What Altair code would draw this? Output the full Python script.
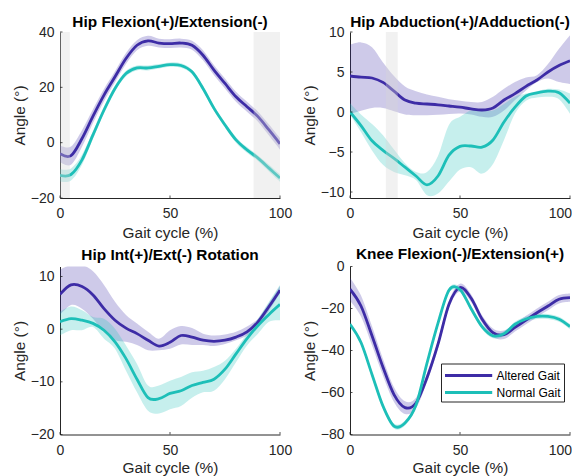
import altair as alt
import pandas as pd

# ---------------- data ----------------
gait = [0, 5, 10, 15, 20, 25, 30, 35, 40, 45, 50, 55, 60, 65, 70, 75, 80, 85, 90, 95, 100]
series_names = ["Altered Gait", "Normal Gait"]

# Panel 1: Hip Flexion(+)/Extension(-)
p1_alt = [-4.0, -4.7, 1.5, 9.6, 17.2, 23.8, 30.4, 35.2, 36.8, 36.0, 35.8, 36.0, 35.2, 31.6, 26.2, 21.4, 16.6, 13.0, 9.4, 4.6, -0.4]
p1_alt_sd = [3.0, 3.3, 3.0, 2.5, 2.2, 2.0, 2.0, 1.8, 1.8, 1.6, 1.6, 1.6, 1.6, 1.8, 1.8, 1.8, 1.8, 1.8, 1.8, 2.0, 2.1]
p1_nor = [-11.8, -11.5, -6.2, 2.8, 11.8, 19.6, 25.0, 27.0, 27.0, 27.6, 28.2, 27.9, 25.6, 19.6, 12.4, 6.4, 1.0, -2.6, -5.6, -9.2, -12.8]
p1_nor_sd = [2.2, 2.2, 1.8, 1.4, 1.2, 1.0, 1.0, 0.9, 0.9, 0.8, 0.8, 0.8, 0.8, 0.9, 0.9, 0.9, 1.0, 1.0, 1.0, 1.2, 1.3]

# Panel 2: Hip Abduction(+)/Adduction(-)
p2_alt = [4.5, 4.35, 4.25, 3.7, 2.6, 1.5, 1.1, 1.0, 0.9, 0.75, 0.6, 0.4, 0.25, 0.5, 1.5, 2.3, 3.2, 4.0, 5.0, 5.8, 6.4]
p2_alt_hi = [8.4, 8.7, 8.1, 6.2, 4.5, 3.2, 2.6, 2.2, 1.9, 1.6, 1.4, 1.25, 1.25, 1.9, 2.9, 3.75, 4.3, 4.6, 6.0, 7.9, 9.6]
p2_alt_lo = [-0.25, 0.15, 0.5, 0.5, 0.1, -0.3, -0.4, -0.4, -0.35, -0.25, -0.2, -0.3, -0.6, -0.6, 0.2, 1.5, 2.7, 3.75, 4.2, 3.75, 3.5]
p2_nor = [0.0, -1.7, -3.6, -4.8, -5.8, -6.9, -8.0, -9.1, -8.0, -5.4, -4.3, -4.25, -4.4, -3.5, -1.25, 0.6, 2.0, 2.4, 2.6, 2.4, 1.1]
p2_nor_hi = [1.1, -0.3, -1.5, -2.9, -4.7, -6.4, -7.5, -7.5, -5.5, -1.6, -0.6, 0.2, 0.2, 0.2, 1.0, 1.9, 2.3, 2.6, 2.9, 2.8, 2.3]
p2_nor_lo = [-0.3, -2.5, -4.8, -6.6, -7.5, -7.9, -8.5, -10.4, -10.2, -8.7, -7.2, -6.9, -7.7, -6.5, -3.5, -0.2, 1.4, 1.8, 1.9, 1.6, -0.2]

# Panel 3: Hip Int(+)/Ext(-) Rotation
p3_alt = [6.6, 8.4, 8.1, 6.5, 3.9, 1.7, 0.2, -0.85, -2.1, -3.2, -2.5, -1.2, -1.5, -2.1, -2.3, -2.1, -1.5, -0.5, 1.4, 4.3, 7.4]
p3_alt_hi = [11.3, 12.2, 12.2, 11.0, 8.4, 5.2, 2.7, 1.1, -0.5, -1.8, -0.2, 0.6, 0.2, -0.85, -1.2, -1.0, -0.5, 0.5, 2.0, 5.0, 8.2]
p3_alt_lo = [2.7, 4.6, 3.9, 2.0, -0.5, -2.1, -2.4, -3.0, -4.0, -4.0, -3.7, -2.9, -3.0, -3.0, -3.2, -2.8, -2.1, -1.2, 0.6, 3.5, 6.8]
p3_nor = [1.4, 2.0, 1.7, 1.1, -0.2, -2.4, -5.6, -9.5, -13.0, -13.2, -12.2, -11.7, -10.7, -10.1, -9.5, -7.6, -4.7, -1.8, 0.7, 2.8, 4.7]
p3_nor_hi = [3.3, 4.3, 3.6, 2.3, 2.0, 0.1, -3.1, -6.6, -10.7, -10.7, -9.8, -9.1, -8.2, -7.9, -7.2, -6.0, -3.7, -0.85, 2.0, 5.2, 8.4]
p3_nor_lo = [-1.2, -0.2, -0.2, 0.4, -1.8, -3.7, -7.9, -12.0, -15.5, -16.0, -15.2, -14.6, -13.0, -12.0, -11.7, -9.5, -6.3, -3.1, -0.85, 1.4, 1.7]

# Panel 4: Knee Flexion(-)/Extension(+)
p4_alt = [-10.8, -18.8, -33.0, -48.0, -61.0, -67.2, -65.0, -53.0, -37.0, -18.0, -10.0, -15.0, -25.0, -31.5, -32.5, -29.0, -25.5, -22.0, -18.8, -15.6, -14.8]
p4_alt_sd = [5.5, 5.0, 4.5, 4.0, 3.5, 3.0, 2.5, 2.0, 2.0, 1.8, 1.8, 1.8, 1.8, 2.0, 2.0, 2.0, 2.0, 2.0, 2.0, 2.0, 2.0]
p4_nor = [-27.5, -36.2, -51.4, -66.5, -76.0, -74.5, -66.0, -46.0, -27.0, -11.3, -11.0, -20.0, -28.6, -33.0, -32.0, -27.5, -25.0, -23.8, -23.8, -25.1, -28.6]
p4_nor_sd = [1.2, 1.2, 1.2, 1.2, 1.2, 1.2, 1.2, 1.2, 1.2, 1.2, 1.2, 1.2, 1.2, 1.2, 1.2, 1.2, 1.2, 1.2, 1.2, 1.2, 1.2]

titles = ["Hip Flexion(+)/Extension(-)", "Hip Abduction(+)/Adduction(-)",
          "Hip Int(+)/Ext(-) Rotation", "Knee Flexion(-)/Extension(+)"]
y_domains = [[-20, 40], [-10.75, 10], [-20, 11.9], [-80, 0]]
y_ticks = [[-20, 0, 20, 40], [-10, -5, 0, 5, 10], [-20, -10, 0, 10], [-80, -60, -40, -20, 0]]
x_ticks = [0, 50, 100]
shade_start = [[0, 88], [16.3], [], []]
shade_end = [[4.5, 100], [21.7], [], []]

# ---------------- style ----------------
FONT = "Liberation Sans"
AX = "#262626"
line_colors = ["#3d2ca6", "#1dbfb8"]
W = 220
heights = [166, 166, 168, 168]
title_offsets = [-5, -5, 3, -3]
x_title_pad = [4.5, 4.5, 3.0, 3.0]
right_column = [False, True, False, True]


def band_df(mean_a, lo_a, hi_a, mean_n, lo_n, hi_n):
    rows = []
    for s, m, lo, hi in [(series_names[0], mean_a, lo_a, hi_a), (series_names[1], mean_n, lo_n, hi_n)]:
        for i, g in enumerate(gait):
            rows.append({"x": g, "series": s, "mean": m[i], "lo": lo[i], "hi": hi[i]})
    return pd.DataFrame(rows)


def sd_df(mean_a, sd_a, mean_n, sd_n):
    return band_df(mean_a, [m - s for m, s in zip(mean_a, sd_a)], [m + s for m, s in zip(mean_a, sd_a)],
                   mean_n, [m - s for m, s in zip(mean_n, sd_n)], [m + s for m, s in zip(mean_n, sd_n)])


frames = [
    sd_df(p1_alt, p1_alt_sd, p1_nor, p1_nor_sd),
    band_df(p2_alt, p2_alt_lo, p2_alt_hi, p2_nor, p2_nor_lo, p2_nor_hi),
    band_df(p3_alt, p3_alt_lo, p3_alt_hi, p3_nor, p3_nor_lo, p3_nor_hi),
    sd_df(p4_alt, p4_alt_sd, p4_nor, p4_nor_sd),
]


def panel(k, show_legend=False):
    df = frames[k]
    H = heights[k]
    xscale = alt.Scale(domain=[0, 100], nice=False, zero=False)
    yscale = alt.Scale(domain=y_domains[k], nice=False, zero=False)
    xargs = dict(values=x_ticks, title="Gait cycle (%)", labelPadding=8.5, titlePadding=x_title_pad[k],
                 labelFlush=False)
    if right_column[k]:
        # keep the last label inside the page width
        xargs["labelAlign"] = {"condition": {"test": "datum.value == 100", "value": "right"}, "value": "center"}
        xargs["labelOffset"] = {"condition": {"test": "datum.value == 100", "value": 1.5}, "value": 0}
    xaxis = alt.Axis(**xargs)
    yaxis = alt.Axis(values=y_ticks[k], title="Angle (°)", labelPadding=6, titlePadding=3, labelFlush=False)

    def X(f):
        return alt.X(f, type="quantitative", scale=xscale, axis=xaxis)

    def Y(f):
        return alt.Y(f, type="quantitative", scale=yscale, axis=yaxis)

    layers = []
    for s, c in zip(series_names, line_colors):
        layers.append(
            alt.Chart(df[df["series"] == s]).mark_area(
                interpolate="cardinal", color=c, fillOpacity=0.25, strokeWidth=0, clip=True
            ).encode(x=X("x"), y=Y("lo"), y2="hi")
        )
    if show_legend:
        leg = alt.Legend(title=None, orient="none", legendX=91, legendY=97, direction="vertical",
                         symbolType="M-1,0H4.9", symbolSize=256, symbolStrokeWidth=3,
                         labelFont=FONT, labelFontSize=12, labelColor="black", labelOffset=34,
                         strokeColor=AX, fillColor="white", padding=2.5, rowPadding=1, labelLimit=200)
    else:
        leg = None
    line = alt.Chart(df).mark_line(interpolate="cardinal", strokeWidth=2.8, clip=True).encode(
        x=X("x"), y=Y("mean"),
        color=alt.Color("series:N", scale=alt.Scale(domain=series_names, range=line_colors), legend=leg),
    )
    layers.append(line)
    if shade_start[k]:
        sdf = pd.DataFrame({"s": shade_start[k], "e": shade_end[k]})
        rect = alt.Chart(sdf).mark_rect(color="#d6d6d6", opacity=0.35).encode(
            x=X("s"), x2="e", y=alt.value(0), y2=alt.value(H))
        layers.append(rect)
    ytk = alt.Chart(pd.DataFrame({"t": y_ticks[k]})).mark_rule(color=AX, strokeWidth=0.8).encode(
        y=Y("t"), x=alt.value(0), x2=alt.value(2.5))
    xtk = alt.Chart(pd.DataFrame({"t": x_ticks})).mark_rule(color=AX, strokeWidth=0.8).encode(
        x=X("t"), y=alt.value(H), y2=alt.value(H - 2.5))
    layers += [ytk, xtk]
    return alt.layer(*layers).properties(
        width=W, height=H,
        title=alt.TitleParams(titles[k], font=FONT, fontSize=15.4, fontWeight="bold", color="black",
                              offset=title_offsets[k]),
    )


top = alt.hconcat(panel(0), panel(1), spacing=10).resolve_scale(color="independent")
bottom = alt.hconcat(panel(2), panel(3, show_legend=True), spacing=10).resolve_scale(color="independent")

chart = alt.vconcat(top, bottom, spacing=5.5).resolve_scale(
    color="independent"
).properties(
    padding={"left": 4, "top": 6, "right": 0, "bottom": 0},
    background="white",
).configure_view(stroke=None).configure_axis(
    domainColor=AX, domainWidth=1, labelColor=AX, labelFont=FONT, labelFontSize=14,
    titleFont=FONT, titleFontSize=15.4, titleFontWeight="normal", titleColor=AX,
    ticks=False, tickSize=0, grid=False,
)

chart.save("out.html", embed_options={"renderer": "svg", "actions": False})
